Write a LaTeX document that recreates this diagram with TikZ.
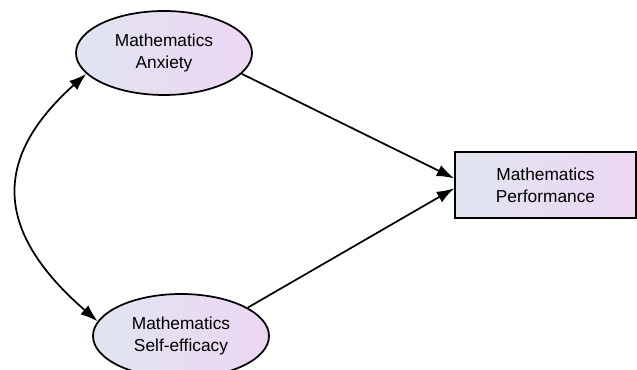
\documentclass[tikz,border=0pt]{standalone}
\usepackage{fontspec}
\setmainfont{Liberation Sans}
\usetikzlibrary{shapes.geometric,arrows.meta}

\definecolor{shadeleft}{RGB}{224,229,240}
\definecolor{shaderight}{RGB}{236,214,242}

\tikzset{
    latent/.style={shape=ellipse, draw=black, line width=1.3pt, left color=shadeleft, right color=shaderight,
        minimum width=132pt, minimum height=63pt, inner sep=0pt, align=center,
        font=\fontsize{13}{16.5}\selectfont},
    observed/.style={shape=rectangle, draw=black, line width=1.3pt, left color=shadeleft, right color=shaderight,
        minimum width=135.75pt, minimum height=49.5pt, inner sep=0pt, align=center,
        font=\fontsize{13}{16.5}\selectfont},
    path/.style={line width=1.3pt, -{Latex[length=13pt,width=9pt]}},
    covar/.style={line width=1.3pt, {Latex[length=13pt,width=9pt]}-{Latex[length=13pt,width=9pt]}}
}

\begin{document}
\begin{tikzpicture}[x=0.75pt, y=-0.75pt]
                \useasboundingbox (0, 0) rectangle (637, 370);

                \node[latent] (A) at (164, 53) {Mathematics\\Anxiety};
                \node[latent] (S) at (181, 336) {Mathematics\\Self-efficacy};
                \node[observed] (P) at (545.5, 185) {Mathematics\\Performance};

                \path [path] (A.-15) edge ([yshift=5pt]P.west);
                \path [path] (S.23) edge ([yshift=-2.5pt]P.west);
                \draw [covar] (A.195) .. controls (-10, 160) and (-4, 233) .. (S.170);
            \end{tikzpicture}
\end{document}
